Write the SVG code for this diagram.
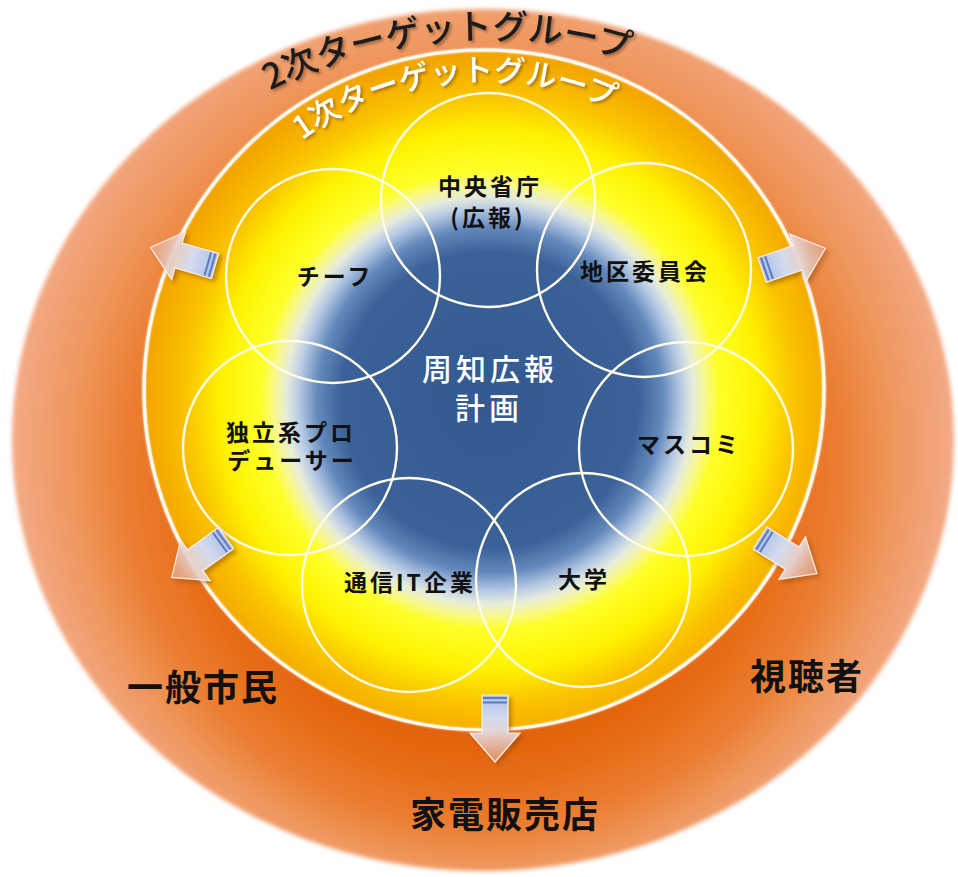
<svg xmlns="http://www.w3.org/2000/svg" width="958" height="877" viewBox="0 0 958 877">
<style>
.lbl{font-family:'Noto Sans CJK JP','Noto Sans CJK SC',sans-serif;font-weight:700;fill:#111;text-anchor:middle;}
.s{font-size:23px;letter-spacing:3px;}
.big{font-size:36px;letter-spacing:2px;}
.ctr{font-family:'Noto Sans CJK JP','Noto Sans CJK SC',sans-serif;font-weight:500;fill:#fff;text-anchor:middle;font-size:30px;letter-spacing:4px;}
.arc{font-family:'Noto Sans CJK JP','Noto Sans CJK SC',sans-serif;font-weight:500;text-anchor:middle;}
.node{fill:none;stroke:#fffbe6;stroke-width:2.4;}
.stripe{stroke:#5d7cc0;stroke-width:2;}
</style>
<defs>
<radialGradient id="gOuter" gradientUnits="userSpaceOnUse" cx="483" cy="440" r="471" fx="483" fy="560">
<stop offset="0.45" stop-color="#e25e08"/>
<stop offset="0.62" stop-color="#e76c16"/>
<stop offset="0.76" stop-color="#eb7e32"/>
<stop offset="0.87" stop-color="#ef965c"/>
<stop offset="1" stop-color="#f3aa86"/>
</radialGradient>
<radialGradient id="gInner" gradientUnits="userSpaceOnUse" cx="490" cy="400" r="345">
<stop offset="0" stop-color="#335a90"/>
<stop offset="0.43" stop-color="#3a6298"/>
<stop offset="0.5" stop-color="#6388bb"/>
<stop offset="0.555" stop-color="#b8cbe5"/>
<stop offset="0.59" stop-color="#e6ecdc"/>
<stop offset="0.625" stop-color="#f8f890"/>
<stop offset="0.665" stop-color="#ffff28"/>
<stop offset="0.78" stop-color="#fff200"/>
<stop offset="0.88" stop-color="#fac400"/>
<stop offset="1" stop-color="#f3a400"/>
</radialGradient>
<linearGradient id="gArrow" x1="0" y1="0" x2="1" y2="0">
<stop offset="0" stop-color="#a9bfe6"/>
<stop offset="0.35" stop-color="#d4dbee"/>
<stop offset="0.6" stop-color="#e8d8d6" stop-opacity="0.9"/>
<stop offset="1" stop-color="#eeb090" stop-opacity="0.55"/>
</linearGradient>
<filter id="soft" x="-5%" y="-5%" width="110%" height="110%"><feGaussianBlur stdDeviation="2"/></filter>
<filter id="glow" x="-5%" y="-5%" width="110%" height="110%"><feGaussianBlur in="SourceGraphic" stdDeviation="1.2" result="b"/><feMerge><feMergeNode in="b"/><feMergeNode in="SourceGraphic"/></feMerge></filter>
<filter id="tshadow" x="-10%" y="-30%" width="120%" height="160%"><feDropShadow dx="2" dy="2" stdDeviation="1.5" flood-color="#000" flood-opacity="0.35"/></filter>
<filter id="wshadow" x="-10%" y="-30%" width="120%" height="160%"><feDropShadow dx="2" dy="2" stdDeviation="1.5" flood-color="#6a4a10" flood-opacity="0.6"/></filter>
<filter id="ashadow" x="-20%" y="-20%" width="140%" height="140%"><feDropShadow dx="3" dy="3" stdDeviation="2" flood-color="#7a3a10" flood-opacity="0.45"/></filter>
<path id="arc2" d="M90.1,245.9 A486,486 0 0 1 831.9,181.6"/>
<path id="arc1" d="M228.3,216.6 A309,309 0 0 1 699.2,168.3"/>
<path id="arrow" d="M0,-13 L38,-13 L38,-25 L67,0 L38,25 L38,13 L0,13 Z"/>
</defs>

<g id="secondary-group">
<ellipse cx="483" cy="440" rx="471" ry="431" fill="url(#gOuter)" filter="url(#soft)"/>
</g>
<g id="primary-group">
<circle cx="484" cy="390" r="340" fill="url(#gInner)"/>
<circle cx="484" cy="390" r="340" fill="none" stroke="#fffaf0" stroke-width="3.2" filter="url(#glow)"/>
</g>

<g id="node-chuo"><circle class="node" cx="488" cy="200" r="107"/>
<text class="lbl s" x="490" y="195">中央省庁</text><text class="lbl s" x="488" y="226">(広報)</text></g>
<g id="node-chiku"><circle class="node" cx="644" cy="270" r="107"/>
<text class="lbl s" x="645" y="280">地区委員会</text></g>
<g id="node-masukomi"><circle class="node" cx="686" cy="449" r="107"/>
<text class="lbl s" x="689" y="453">マスコミ</text></g>
<g id="node-daigaku"><circle class="node" cx="583" cy="580" r="107"/>
<text class="lbl s" x="584" y="588">大学</text></g>
<g id="node-tsushin"><circle class="node" cx="409" cy="585" r="107"/>
<text class="lbl s" x="410" y="591">通信IT企業</text></g>
<g id="node-dokuritsu"><circle class="node" cx="290" cy="448" r="107"/>
<text class="lbl s" x="291" y="441">独立系プロ</text><text class="lbl s" x="292" y="469">デューサー</text></g>
<g id="node-chief"><circle class="node" cx="333" cy="276" r="107"/>
<text class="lbl s" x="335" y="285">チーフ</text></g>

<g id="node-center">
<text class="ctr" x="490" y="380">周知広報</text>
<text class="ctr" x="489" y="419">計画</text>
</g>

<g id="connectors">
<g filter="url(#ashadow)"><g transform="translate(215,266) rotate(196)"><use href="#arrow" fill="url(#gArrow)" stroke="#fbeee6" stroke-width="1.2"/><line class="stripe" x1="3" y1="-12" x2="3" y2="12"/><line class="stripe" x1="7.5" y1="-12" x2="7.5" y2="12"/></g></g>
<g filter="url(#ashadow)"><g transform="translate(762,270) rotate(-19)"><use href="#arrow" fill="url(#gArrow)" stroke="#fbeee6" stroke-width="1.2"/><line class="stripe" x1="3" y1="-12" x2="3" y2="12"/><line class="stripe" x1="7.5" y1="-12" x2="7.5" y2="12"/></g></g>
<g filter="url(#ashadow)"><g transform="translate(226,538) rotate(144)"><use href="#arrow" fill="url(#gArrow)" stroke="#fbeee6" stroke-width="1.2"/><line class="stripe" x1="3" y1="-12" x2="3" y2="12"/><line class="stripe" x1="7.5" y1="-12" x2="7.5" y2="12"/></g></g>
<g filter="url(#ashadow)"><g transform="translate(760,538) rotate(32)"><use href="#arrow" fill="url(#gArrow)" stroke="#fbeee6" stroke-width="1.2"/><line class="stripe" x1="3" y1="-12" x2="3" y2="12"/><line class="stripe" x1="7.5" y1="-12" x2="7.5" y2="12"/></g></g>
<g filter="url(#ashadow)"><g transform="translate(495,695) rotate(90)"><use href="#arrow" fill="url(#gArrow)" stroke="#fbeee6" stroke-width="1.2"/><line class="stripe" x1="3" y1="-12" x2="3" y2="12"/><line class="stripe" x1="7.5" y1="-12" x2="7.5" y2="12"/></g></g>
</g>

<g id="arc-labels">
<text class="arc" font-size="35" fill="#1c1c1c" filter="url(#tshadow)"><textPath href="#arc2" startOffset="50%">2次ターゲットグループ</textPath></text>
<text class="arc" font-size="31" fill="#ffffff" filter="url(#wshadow)"><textPath href="#arc1" startOffset="50%">1次ターゲットグループ</textPath></text>
</g>

<g id="audience">
<text class="lbl big" x="203" y="701">一般市民</text>
<text class="lbl big" x="807" y="690">視聴者</text>
<text class="lbl big" x="505" y="828">家電販売店</text>
</g>
</svg>
